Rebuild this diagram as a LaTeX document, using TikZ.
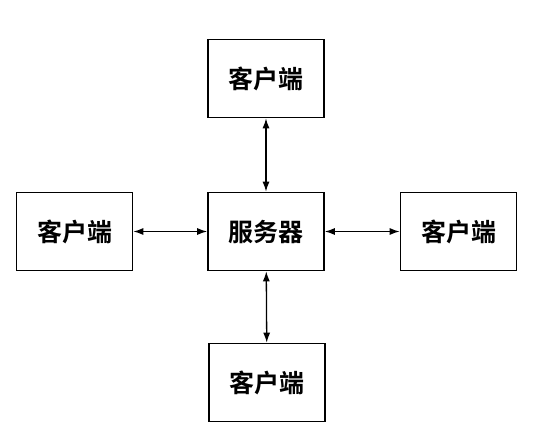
\documentclass[tikz,border=0pt]{standalone}
\usepackage{fontspec}
\newfontfamily\cjk{Noto Sans CJK SC}[BoldFont={* Bold}]
\usetikzlibrary{arrows.meta}
\begin{document}
\begin{tikzpicture}[x=1pt,y=-1pt,
  box/.style={draw, line width=1.6pt, minimum width=116pt, minimum height=78pt, inner sep=0pt,
    font=\cjk\bfseries\fontsize{25}{28}\selectfont},
  link/.style={line width=1.3pt, {Latex[length=10pt,width=7pt]}-{Latex[length=10pt,width=7pt]}}]
\useasboundingbox (0,0) rectangle (559,436);
\node[box] (s) at (266,231.5) {服务器};
\node[box] (t) at (266,78.5) {客户端};
\node[box] (l) at (74.5,231.5) {客户端};
\node[box] (r) at (458.5,231.5) {客户端};
\node[box] (b) at (267,382.5) {客户端};
\draw[link] (t) -- (s);
\draw[link] (s) -- (b);
\draw[link] (l) -- (s);
\draw[link] (s) -- (r);
\end{tikzpicture}
\end{document}
